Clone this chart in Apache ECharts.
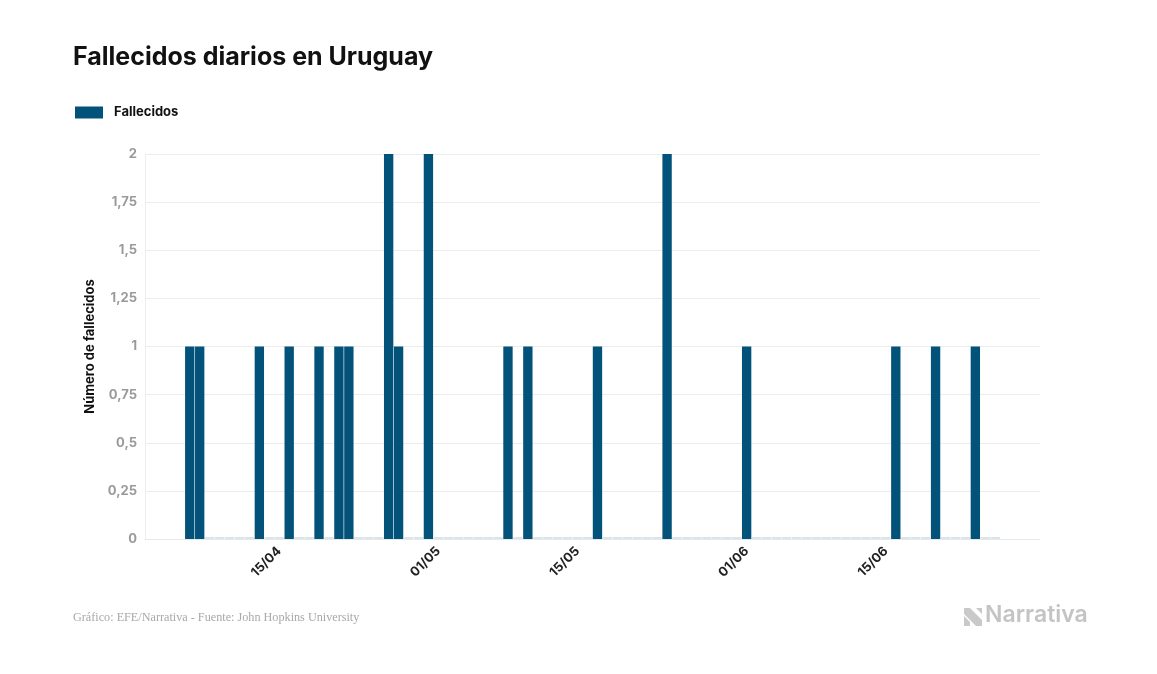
<!DOCTYPE html>
<html>
<head>
<meta charset="utf-8">
<script src="https://cdn.jsdelivr.net/npm/echarts@6/dist/echarts.min.js"></script>
<style>
html,body{margin:0;padding:0;background:#fff;}
#chart{width:1157px;height:674px;}
</style>
</head>
<body>
<div id="chart"></div>
<script>
// Days from 02/04 to 30/06 (category axis)
const startDate = [2020, 3, 2]; // 2 April (month index 3)
const dayCount = 90;
// Daily deaths; null = outside data range
const deathsBefore = [null, null, null, null]; // 02/04 - 05/04
const deaths = [1,1,0,0,0,0,0,1,0,0,1,0,0,1,0,1,1,0,0,0,2,1,0,0,2,
                0,0,0,0,0,0,0,1,0,1,0,0,0,0,0,0,1,0,0,0,0,0,0,2,0,
                0,0,0,0,0,0,1,0,0,0,0,0,0,0,0,0,0,0,0,0,0,1,0,0,0,
                1,0,0,0,1,0,0]; // 06/04 - 26/06
const deathsAfter = [null, null, null, null]; // 27/06 - 30/06
const yTicks = [0, 0.25, 0.5, 0.75, 1, 1.25, 1.5, 1.75, 2];

const categories = [];
for (let i = 0; i < dayCount; i++) {
  const d = new Date(startDate[0], startDate[1], startDate[2] + i);
  const dd = String(d.getDate()).padStart(2, '0');
  const mm = String(d.getMonth() + 1).padStart(2, '0');
  categories.push(dd + '/' + mm);
}
const values = deathsBefore.concat(deaths, deathsAfter);

const BAR = '#02527a';
const chart = echarts.init(document.getElementById('chart'));
const FONT = 'Inter, "Noto Sans", sans-serif';
chart.setOption({
  animation: false,
  color: [BAR],
  title: {
    text: 'Fallecidos diarios en Uruguay',
    left: 68, top: 40,
    textStyle: {fontFamily: FONT, fontSize: 25, fontWeight: 700, color: '#111'}
  },
  legend: {
    left: 70, top: 101,
    icon: 'rect',
    itemWidth: 28, itemHeight: 12, itemGap: 10,
    textStyle: {fontFamily: FONT, fontSize: 13, fontWeight: 700, color: '#111', padding: [0, 0, 0, 6]},
    data: [{name: 'Fallecidos', itemStyle: {color: BAR}}]
  },
  grid: {left: 145, right: 117, top: 154, bottom: 135},
  xAxis: {
    type: 'category',
    data: categories,
    boundaryGap: true,
    axisLine: {show: true, lineStyle: {color: '#e6e9ec', width: 1}},
    axisTick: {show: false},
    axisLabel: {
      interval: (idx, val) => val.startsWith('01/') || val.startsWith('15/'),
      rotate: 45, margin: 10,
      fontFamily: FONT, fontSize: 13, fontWeight: 700, color: '#222'
    }
  },
  yAxis: {
    type: 'value', min: 0, max: 2, interval: 0.25,
    name: 'Número de fallecidos',
    nameLocation: 'middle', nameGap: 43, nameRotate: 90,
    nameTextStyle: {fontFamily: FONT, fontSize: 13, fontWeight: 700, color: '#111'},
    axisLine: {show: true, lineStyle: {color: '#eceef0'}},
    axisTick: {show: false},
    axisLabel: {
      margin: 8,
      fontFamily: FONT, fontSize: 13, fontWeight: 700, color: '#9a9a9a',
      formatter: v => yTicks.includes(v) ? String(v).replace('.', ',') : ''
    },
    splitLine: {lineStyle: {color: '#ececec', width: 1}}
  },
  series: [{
    name: 'Fallecidos',
    type: 'bar',
    data: values,
    barCategoryGap: '6%',
    barMinHeight: 2,
    itemStyle: {
      color: p => (p.value === 0 ? '#dbe4eb' : BAR)
    }
  }],
  graphic: [
    {
      type: 'text', left: 73, top: 612,
      style: {text: 'Gráfico: EFE/Narrativa - Fuente: John Hopkins University',
        font: '12.2px "Liberation Serif", "DejaVu Serif", serif', fill: '#a8a8a8'}
    },
    {
      type: 'polygon',
      shape: {points: [[964,608],[970,608],[982,620],[982,626],[976,626],[964,614]]},
      style: {fill: '#c9c9c9'}
    },
    {
      type: 'polygon',
      shape: {points: [[964,616],[970,622],[970,626],[964,626]]},
      style: {fill: '#c9c9c9'}
    },
    {
      type: 'polygon',
      shape: {points: [[976,608],[982,608],[982,614],[976,608]]},
      style: {fill: '#c9c9c9'}
    },
    {
      type: 'text', left: 985, top: 604,
      style: {text: 'Narrativa', font: '600 23px Inter, "Noto Sans", sans-serif', fill: '#c4c4c4'}
    }
  ]
});
</script>
</body>
</html>
